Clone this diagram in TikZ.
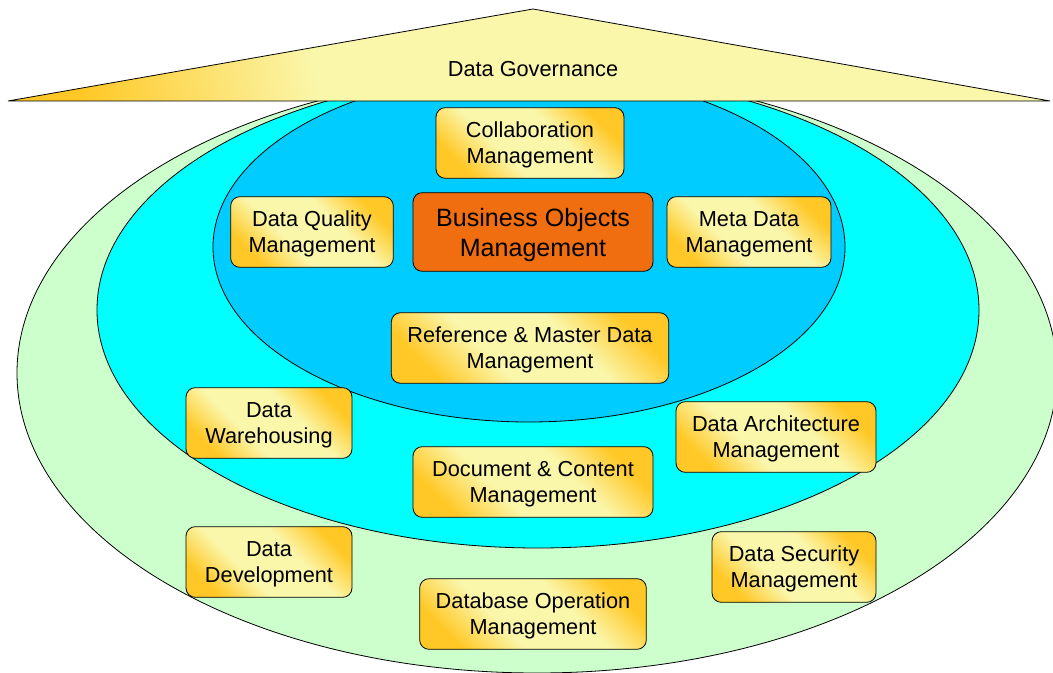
\documentclass[tikz,border=0pt]{standalone}
\usepackage{fontspec}
\setmainfont{Liberation Sans}
\usetikzlibrary{positioning}

\definecolor{gold}{RGB}{255,200,38}
\definecolor{paleyellow}{RGB}{250,246,170}
\definecolor{ringgreen}{RGB}{204,255,204}
\definecolor{ringcyan}{RGB}{0,255,255}
\definecolor{ringblue}{RGB}{0,204,255}
\definecolor{coreorange}{RGB}{240,110,15}

\pgfdeclarehorizontalshading{roofshade}{100bp}{color(0bp)=(gold); color(25bp)=(gold);
    color(38bp)=(paleyellow); color(100bp)=(paleyellow)}
\pgfdeclareverticalshading{boxshade}{100bp}{color(0bp)=(gold); color(25bp)=(gold);
    color(40bp)=(paleyellow); color(60bp)=(paleyellow); color(75bp)=(gold); color(100bp)=(gold)}

\begin{document}
\begin{tikzpicture}[x=0.75pt, y=-0.75pt,
    ring/.style={draw, line width=0.6pt},
    label/.style={align=center, font=\fontsize{16.3}{19.5}\selectfont},
    area/.style={label, draw, line width=0.6pt, rounded corners=7pt, inner sep=0pt,
        text depth=0pt, shading=boxshade, shading angle=-45, minimum height=53pt},
    core/.style={draw, line width=0.6pt, rounded corners=7pt, inner sep=0pt,
        text depth=0pt, align=center, fill=coreorange,
        font=\fontsize{18.8}{22.5}\selectfont, minimum height=59pt, minimum width=180pt}]
    \useasboundingbox (0,0) rectangle (1053,673);
    \clip (0,0) rectangle (1053,673);
    % rings
    \draw[ring, fill=ringgreen] (537,373) ellipse [x radius=520, y radius=300];
    \draw[ring, fill=ringcyan] (538,310) ellipse [x radius=441, y radius=238];
    \draw[ring, fill=ringblue] (529,247) ellipse [x radius=316, y radius=175];
    % roof
    \draw[line width=0.6pt, shading=roofshade, shading angle=10]
        (8,101) -- (533,9) -- (1050,101) -- cycle;
    \node[label] (gov) at (533,69) {Data Governance};
    % inner ring
    \node[area, minimum width=141pt] (collab) at (530,143) {Collaboration\\Management};
    \node[area, minimum width=122pt] (quality) at (312,232) {Data Quality\\Management};
    \node[core] (busobj) at (533,232) {Business Objects\\Management};
    \node[area, minimum width=123pt] (meta) at (749,232) {Meta Data\\Management};
    \node[area, minimum width=208pt] (refmaster) at (530,348) {Reference \& Master Data\\Management};
    % middle ring
    \node[area, minimum width=124.5pt] (warehouse) at (269,423) {Data\\Warehousing};
    \node[area, minimum width=150pt] (arch) at (776,437) {Data Architecture\\Management};
    \node[area, minimum width=180pt] (doc) at (533,482) {Document \& Content\\Management};
    % outer ring
    \node[area, minimum width=124.5pt] (develop) at (269,562) {Data\\Development};
    \node[area, minimum width=123pt] (security) at (794,567) {Data Security\\Management};
    \node[area, minimum width=170pt] (dbops) at (533,614) {Database Operation\\Management};
\end{tikzpicture}
\end{document}
